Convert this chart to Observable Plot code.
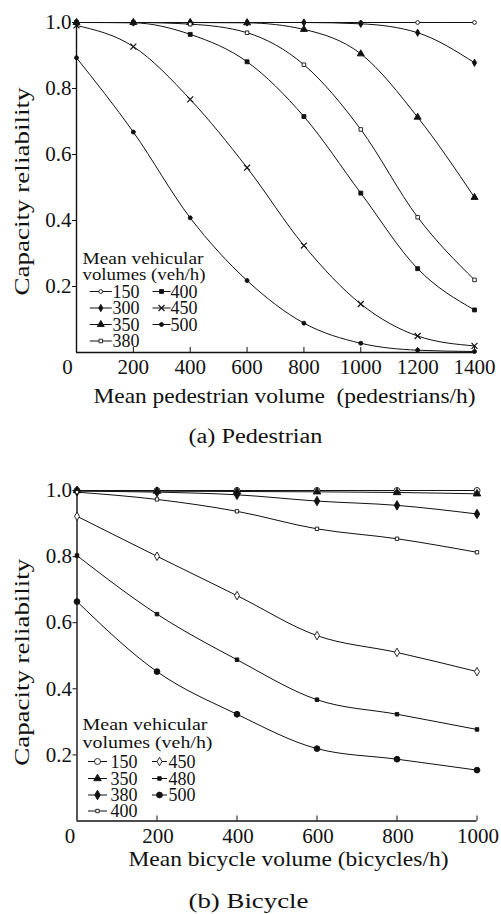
<!DOCTYPE html>
<html><head><meta charset="utf-8">
<script src="https://cdn.jsdelivr.net/npm/d3@7"></script>
<script src="https://cdn.jsdelivr.net/npm/@observablehq/plot@0.6"></script>
<style>
html,body{margin:0;padding:0;background:#fff;}
#wrap{position:relative;width:501px;height:914px;overflow:hidden;background:#fff;}
#wrap > div{position:absolute;left:0;}
svg text{font-family:"Liberation Serif","Times New Roman",Times,serif;}
</style></head><body><div id="wrap"></div>
<script>
// ---------- DATA ----------
const yTicks = [0.2, 0.4, 0.6, 0.8, 1.0];

const pedX = [0, 200, 400, 600, 800, 1000, 1200, 1400];
const pedSeries = ["150", "300", "350", "380", "400", "450", "500"];
const ped150 = [1, 1, 1, 1, 1, 1, 1, 1];
const ped300 = [1, 1, 1, 1, 1, 0.996, 0.969, 0.878];
const ped350 = [1, 1, 1, 0.999, 0.979, 0.905, 0.713, 0.47];
const ped380 = [1, 1, 0.995, 0.969, 0.872, 0.676, 0.41, 0.22];
const ped400 = [1, 0.999, 0.964, 0.881, 0.715, 0.483, 0.254, 0.129];
const ped450 = [0.991, 0.927, 0.767, 0.56, 0.324, 0.147, 0.05, 0.02];
const ped500 = [0.893, 0.668, 0.408, 0.218, 0.089, 0.028, 0.007, 0.003];

const bikeX = [0, 200, 400, 600, 800, 1000];
const bikeSeries = ["150", "350", "380", "400", "450", "480", "500"];
const bike150 = [1, 1, 1, 1, 1, 1];
const bike350 = [1, 0.998, 0.997, 0.996, 0.994, 0.99];
const bike380 = [0.998, 0.995, 0.987, 0.968, 0.955, 0.929];
const bike400 = [0.995, 0.973, 0.937, 0.884, 0.854, 0.813];
const bike450 = [0.922, 0.801, 0.682, 0.561, 0.51, 0.452];
const bike480 = [0.803, 0.626, 0.488, 0.367, 0.323, 0.277];
const bike500 = [0.664, 0.452, 0.323, 0.219, 0.187, 0.154];

const legendTitle = ["Mean vehicular", "volumes (veh/h)"];
const yTitle = "Capacity reliability";
const pedTitle = "Mean pedestrian volume  (pedestrians/h)";
const bikeTitle = "Mean bicycle volume (bicycles/h)";
const pedCaption = "(a) Pedestrian";
const bikeCaption = "(b) Bicycle";

// ---------- STYLES ----------
const pedStyle = {
  "150": {symbol: "circle", r: 1.9, fill: false},
  "300": {symbol: "diamond", r: 2.2, fill: true},
  "350": {symbol: "triangle", r: 2.6, fill: true},
  "380": {symbol: "square", r: 2.0, fill: false},
  "400": {symbol: "square", r: 2.2, fill: true},
  "450": {symbol: "times", r: 2.8, fill: false},
  "500": {symbol: "circle", r: 2.0, fill: true}
};
const bikeStyle = {
  "150": {symbol: "circle", r: 3.0, fill: false},
  "350": {symbol: "triangle", r: 2.8, fill: true},
  "380": {symbol: "diamond", r: 2.9, fill: true},
  "400": {symbol: "square", r: 1.9, fill: false},
  "450": {symbol: "diamond", r: 2.6, fill: false},
  "480": {symbol: "square", r: 2.0, fill: true},
  "500": {symbol: "circle", r: 2.9, fill: true}
};
const INK = "#111";
const FONT = '"Liberation Serif", "Times New Roman", Times, serif';

// map: text -> [length, centred?]
function stretchTexts(svg, map) {
  svg.querySelectorAll("text").forEach(t => {
    const e = map[t.textContent];
    if (!e) return;
    const [L, mid] = e;
    t.setAttribute("textLength", L);
    t.setAttribute("lengthAdjust", "spacingAndGlyphs");
    if (mid) {
      t.setAttribute("text-anchor", "start");
      const x0 = +(t.getAttribute("x") || 0);
      t.setAttribute("x", x0 - L / 2);
    }
  });
}

function panel(c) {
  const rows = [];
  c.names.forEach((n, i) => c.xs.forEach((x, j) => rows.push({series: n, x, y: c.vals[i][j]})));
  const xTicks = c.xs;
  const marks = [
    Plot.ruleY([0], {stroke: INK, strokeWidth: 1.4}),
    Plot.ruleX([0], {stroke: INK, strokeWidth: 1.4}),
    Plot.ruleX(xTicks.filter(d => d > 0), {stroke: INK, insetTop: c.innerH - 5, strokeWidth: 1}),
    Plot.axisY({ticks: yTicks, tickFormat: d3.format(".1f"), tickSize: 4, tickPadding: 1, fontSize: 21, label: null, stroke: INK}),
    Plot.axisX({ticks: xTicks.filter(d => d > 0), tickFormat: d3.format("d"), tickSize: 0, tickPadding: c.tickPad, fontSize: 21, dx: c.tickDx, label: null}),
    Plot.axisX({ticks: [0], tickFormat: d3.format("d"), tickSize: 0, tickPadding: c.tickPad, fontSize: 21, dx: c.zeroDx, label: null})
  ];
  c.names.forEach(n => {
    marks.push(Plot.line(rows.filter(r => r.series === n), {x: "x", y: "y", curve: "monotone-x", stroke: INK, strokeWidth: 1}));
  });
  c.names.forEach(n => {
    const s = c.styles[n];
    marks.push(Plot.dot(rows.filter(r => r.series === n), {
      x: "x", y: "y", symbol: s.symbol, r: s.r,
      fill: s.fill ? INK : (s.symbol === "times" ? "none" : "white"),
      stroke: INK, strokeWidth: s.symbol === "times" ? 1.2 : 0.9
    }));
  });
  marks.push(Plot.text([yTitle], {frameAnchor: "left", rotate: -90, lineAnchor: "bottom", dx: c.yT.dx, dy: c.yT.dy, fontSize: 22, fill: INK}));
  marks.push(Plot.text([c.xTitle], {frameAnchor: "bottom", lineAnchor: "bottom", dx: c.xT.dx, dy: c.xT.dy, fontSize: 21, fill: INK}));
  marks.push(Plot.text([c.caption], {frameAnchor: "bottom", lineAnchor: "bottom", dx: c.cap.dx, dy: c.cap.dy, fontSize: 20, fill: INK}));

  const svg = Plot.plot({
    width: 501, height: c.height,
    marginTop: c.mT, marginBottom: c.height - c.mT - c.innerH, marginLeft: c.mL, marginRight: c.mR,
    x: {domain: [0, c.xs[c.xs.length - 1]]},
    y: {domain: [0, 1]},
    style: {fontFamily: FONT, color: INK, background: "white", overflow: "visible"},
    marks
  });
  stretchTexts(svg, c.stretch);

  // legend overlay (panel-relative pixel layout)
  const L = c.legend;
  const ent = [];
  L.cols.forEach((col, ci) => col.forEach((lab, ri) => ent.push({lab, ci, ri})));
  const lx = d => L.sym[d.ci];
  const ly = d => L.rows[d.ri];
  const lmarks = [
    Plot.text(legendTitle, {x: () => L.hx, y: (d, i) => L.head[i], text: d => d, textAnchor: "start", lineAnchor: "bottom", fontSize: 17.5, fill: INK}),
    Plot.link(ent, {x1: d => lx(d) - L.half[d.ci], x2: d => lx(d) + L.half[d.ci], y1: d => ly(d) - 6, y2: d => ly(d) - 6, stroke: INK, strokeWidth: 1})
  ];
  ent.forEach(d => {
    const s = c.styles[d.lab];
    lmarks.push(Plot.dot([d], {x: lx, y: e => ly(e) - 6, symbol: s.symbol, r: s.r,
      fill: s.fill ? INK : (s.symbol === "times" ? "none" : "white"), stroke: INK, strokeWidth: s.symbol === "times" ? 1.2 : 0.9}));
  });
  lmarks.push(Plot.text(ent, {x: d => L.tx[d.ci], y: ly, text: "lab", textAnchor: "start", lineAnchor: "bottom", fontSize: 18, fill: INK}));
  const leg = Plot.plot({
    width: 501, height: c.height, margin: 0,
    x: {type: "identity", axis: null}, y: {type: "identity", axis: null},
    style: {fontFamily: FONT, color: INK, background: "transparent", overflow: "visible"},
    marks: lmarks
  });
  stretchTexts(leg, c.legStretch);

  const box = document.createElement("div");
  box.style.top = c.top + "px";
  box.style.width = "501px";
  box.style.height = c.height + "px";
  box.appendChild(svg);
  leg.style.position = "absolute";
  leg.style.left = "0px"; leg.style.top = "0px";
  box.appendChild(leg);
  document.getElementById("wrap").appendChild(box);
}

panel({
  xs: pedX, names: pedSeries, vals: [ped150, ped300, ped350, ped380, ped400, ped450, ped500], styles: pedStyle,
  top: 0, height: 450, mT: 22, innerH: 330, mL: 76, mR: 27,
  tickPad: 6.5, tickDx: 0, zeroDx: -9,
  xTitle: pedTitle, caption: pedCaption,
  yT: {dx: -48, dy: 4}, xT: {dx: 9, dy: 50}, cap: {dx: -20, dy: 90},
  stretch: {[yTitle]: [208, true], [pedTitle]: [382, true], [pedCaption]: [134, true]},
  legStretch: {[legendTitle[0]]: [121, false], [legendTitle[1]]: [123, false]},
  legend: {hx: 82, head: [263.5, 279], rows: [297, 313.5, 330, 346.5],
    cols: [["150", "300", "350", "380"], ["400", "450", "500"]],
    sym: [100.3, 161], half: [11, 9], tx: [112, 170]}
});

panel({
  xs: bikeX, names: bikeSeries, vals: [bike150, bike350, bike380, bike400, bike450, bike480, bike500], styles: bikeStyle,
  top: 468, height: 446, mT: 22, innerH: 330.5, mL: 76.5, mR: 24.5,
  tickPad: 7.4, tickDx: 1, zeroDx: -7,
  xTitle: bikeTitle, caption: bikeCaption,
  yT: {dx: -48.5, dy: 6.5}, xT: {dx: 11.5, dy: 44.5}, cap: {dx: -28.5, dy: 87},
  stretch: {[yTitle]: [207, true], [bikeTitle]: [320, true], [bikeCaption]: [120, true]},
  legStretch: {[legendTitle[0]]: [125, false], [legendTitle[1]]: [130, false]},
  legend: {hx: 82, head: [261.5, 279], rows: [299, 316, 332.5, 348.5],
    cols: [["150", "350", "380", "400"], ["450", "480", "500"]],
    sym: [97, 159], half: [9.5, 7.5], tx: [110, 168]}
});
</script></body></html>
